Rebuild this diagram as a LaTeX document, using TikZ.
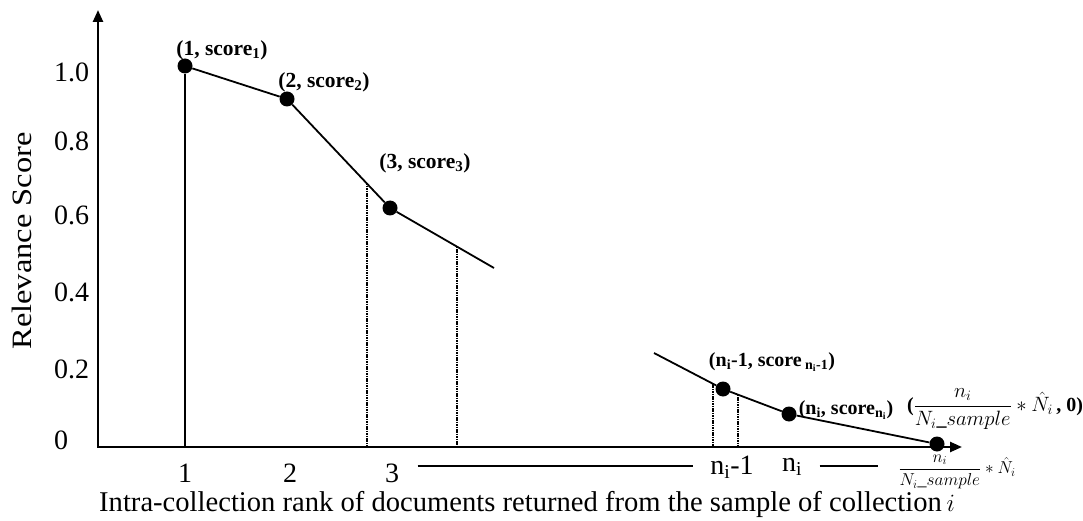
\documentclass[tikz,border=0pt]{standalone}
\usepackage{fontspec}
\setmainfont{Liberation Serif}
\usetikzlibrary{arrows.meta}
\begin{document}
\begin{tikzpicture}[x=1pt,y=-1pt,
  axis/.style={line width=2.4pt},
  curve/.style={line width=1.8pt},
  riser/.style={line width=1.6pt},
  dotline/.style={line width=2.6pt, dash pattern=on 1.6pt off 0.8pt},
  dot/.style={circle, fill=black, inner sep=0pt, minimum size=15pt},
  tick/.style={font=\fontsize{28}{30}\selectfont},
  ptlabel/.style={font=\fontsize{20}{22}\selectfont\bfseries, inner sep=0pt},
  bigptlabel/.style={ptlabel, font=\fontsize{21.5}{23}\selectfont\bfseries},
  rankline/.style={line width=1.2pt}]
\useasboundingbox (0,0) rectangle (1083,521);

% axes
\coordinate (O) at (98,447);
\coordinate (ytop) at (98,10);
\coordinate (xend) at (962,447);
\draw[axis, {Triangle[length=12pt,width=10pt]}-{Triangle[length=12pt,width=10pt]}]
  (ytop) -- (O) -- (xend);

% score axis labels
\foreach \v/\yy in {1.0/72, 0.8/141, 0.6/215, 0.4/292, 0.2/369, 0/440}
  \node[tick, anchor=west, inner sep=0pt] at (54,\yy) {\v};
\node[tick, rotate=90] (ylab) at (22,241) {\scalebox{1.16}[1]{Relevance Score}};

% sampled points
\node[dot] (p1) at (185,66) {};
\node[dot] (p2) at (287,99) {};
\node[dot] (p3) at (390,208) {};
\coordinate (c3) at (494,268);
\coordinate (c0) at (654,353);
\node[dot] (pm) at (723,389) {};
\node[dot] (pn) at (789,414) {};
\node[dot] (pe) at (937,444) {};

\draw[curve] (p1) -- (p2) -- (p3) -- (c3);
\draw[curve] (c0) -- (pm) -- (pn) -- (pe);
\draw[riser] (p1) -- (p1 |- O);

% interval bounds
\coordinate (d1) at (367,183.5);
\coordinate (d2) at (457,246.5);
\coordinate (d3) at (713,384);
\coordinate (d4) at (738,394.5);
\foreach \d in {d1,d2,d3,d4}
  \draw[dotline] (\d) -- (\d |- O);

% point labels
\node[bigptlabel] (l1) at (222,50) {(1, score\textsubscript{1})};
\node[bigptlabel] (l2) at (324,82) {(2, score\textsubscript{2})};
\node[bigptlabel] (l3) at (425,163) {(3, score\textsubscript{3})};
\node[ptlabel] (lm) at (772,362) {(n\textsubscript{i}-1, score\,\textsubscript{n\textsubscript{i}-1})};
\node[ptlabel] (ln) at (846,410) {(n\textsubscript{i}, score\textsubscript{n\textsubscript{i}})};
\node[ptlabel] (le) at (995,409) {($\displaystyle\frac{n_i}{N_{i}\_sample}*\hat{N}_i$\,, 0)};

% rank labels
\node[tick] (x1) at (185,473) {1};
\node[tick] (x2) at (290,473) {2};
\node[tick] (x3) at (392,473) {3};
\node[tick] (xm) at (732,467) {n\textsubscript{i}-1};
\node[tick] (xn) at (792,467) {n\textsubscript{i}};
\node[font=\fontsize{18}{20}\selectfont, inner sep=0pt] (xe) at (957,472)
  {$\displaystyle\frac{n_i}{N_{i}\_sample}*\hat{N}_i$};
\draw[rankline] ([xshift=15pt]x3.east |- 0,466) -- ([xshift=-14pt]xm.west |- 0,466);
\draw[rankline] ([xshift=14pt]xn.east |- 0,466) -- ([xshift=-20pt]xe.west |- 0,466);

\node[anchor=west, inner sep=0pt, font=\fontsize{28.6}{30}\selectfont] (xlab) at (99,504)
  {Intra-collection rank of documents returned from the sample of collection\,$i$};
\end{tikzpicture}
\end{document}
